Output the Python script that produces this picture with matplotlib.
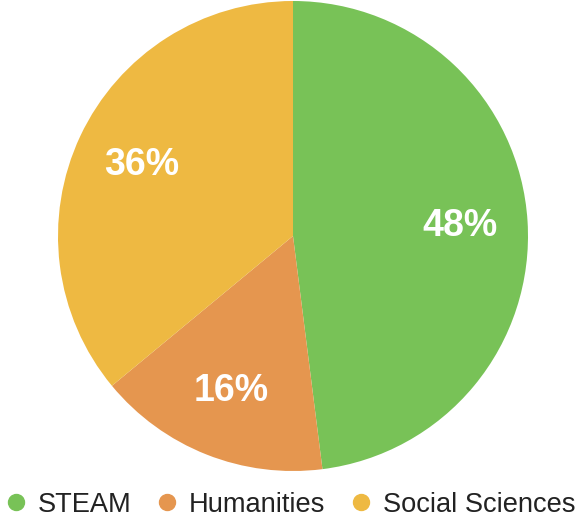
import matplotlib.pyplot as plt
from matplotlib.lines import Line2D

labels = ['STEAM', 'Humanities', 'Social Sciences']
shares = [48, 16, 36]
colors = ['#78C257', '#E5964F', '#EEB942']

plt.rcParams['font.family'] = ['Liberation Sans', 'DejaVu Sans']

W, H = 583, 519
fig = plt.figure(figsize=(W / 100, H / 100), dpi=100)
cx, cy, r = 293, 236, 235
ax = fig.add_axes([(cx - r) / W, (H - cy - r) / H, 2 * r / W, 2 * r / H])

wedges, texts, autotexts = ax.pie(
    shares, colors=colors, startangle=90, counterclock=False,
    autopct='%d%%', pctdistance=0.71, radius=1,
    wedgeprops=dict(linewidth=0),
    textprops=dict(color='white', fontsize=27, fontweight='bold'))
ax.set_xlim(-1, 1)
ax.set_ylim(-1, 1)
ax.set_aspect('equal')
ax.axis('off')

handles = [Line2D([], [], marker='o', linestyle='', markersize=11.5,
                  markerfacecolor=c, markeredgecolor=c) for c in colors]
fig.legend(handles, labels, loc='center left', bbox_to_anchor=(6 / W, 14 / H),
           ncol=3, frameon=False, fontsize=19.6, handletextpad=0.45,
           columnspacing=0.97, handlelength=0.7, borderpad=0,
           borderaxespad=0, labelcolor='#222222')

fig.savefig('out.png', dpi=100)
